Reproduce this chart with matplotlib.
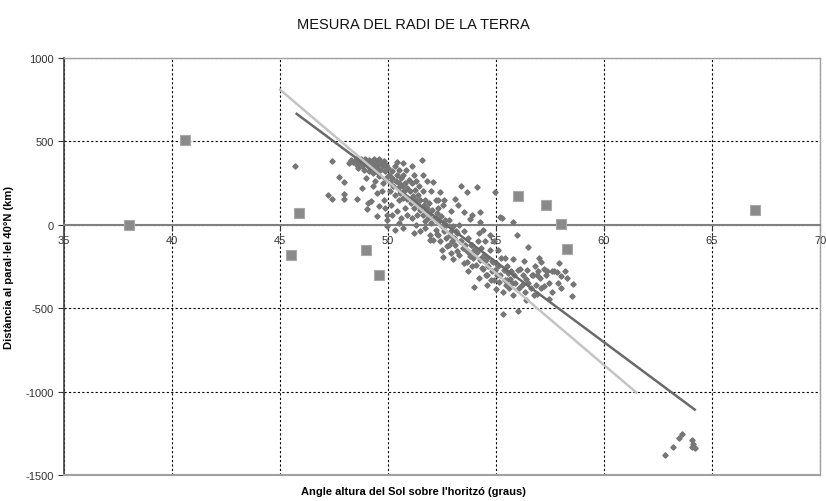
import numpy as np
import matplotlib
matplotlib.use('Agg')
import matplotlib.pyplot as plt

plt.rcParams['font.family'] = ['Liberation Sans', 'DejaVu Sans']
plt.rcParams['axes.unicode_minus'] = False

# Mesures (angle en graus, distancia en km) llegides del grafic
punts = [
    (45.7, 350),
    (47.2, 176), (47.4, 380), (47.4, 156), (47.75, 285), (47.98, 259), (47.98, 186), (47.98, 156), (48.2, 371),
    # grup superior
    (48.3, 390), (48.4, 375), (48.5, 395), (48.55, 360), (48.6, 385), (48.7, 370), (48.75, 395), (48.8, 350),
    (48.85, 380), (48.9, 365), (48.95, 395), (49.0, 375), (49.05, 355), (49.1, 390), (49.15, 370), (49.2, 345),
    (49.25, 385), (49.3, 360), (49.35, 395), (49.4, 375), (49.45, 340), (49.5, 385), (49.55, 360), (49.6, 395),
    (49.65, 330), (49.7, 370), (49.75, 350), (49.8, 385), (49.85, 320), (49.9, 360), (48.6, 340), (48.9, 330),
    (49.1, 320), (49.3, 310),
    (48.58, 152), (48.78, 220), (49.06, 130), (49.01, 92), (49.2, 140), (49.3, 230), (49.4, 265), (49.5, 52),
    (49.5, 190), (49.6, 290), (49.7, 200), (49.75, 250), (49.8, 150), (49.9, 280), (49.94, 60), (49.97, 26),
    (49.95, -10), (49.85, 100), (49.0, 280), (49.6, 110),
    # 50 - 51
    (50.0, 340), (50.05, 300), (50.1, 257), (50.1, 200), (50.15, 120), (50.2, 320), (50.2, 280), (50.25, 230),
    (50.3, 350), (50.3, 180), (50.35, 260), (50.4, 379), (50.4, 300), (50.4, 80), (50.45, 220), (50.5, 330),
    (50.5, 250), (50.5, 150), (50.55, 190), (50.6, 280), (50.6, 40), (50.65, 230), (50.7, 371), (50.7, 300),
    (50.7, 160), (50.75, 200), (50.8, 250), (50.8, 100), (50.85, 330), (50.9, 156), (50.9, 220), (50.95, 270),
    (50.3, -30), (50.7, -20), (50.5, 10), (50.9, 60), (50.2, 60),
    # 51 - 52
    (51.0, 200), (51.05, 130), (51.1, 355), (51.1, 250), (51.15, 170), (51.2, 300), (51.2, 100), (51.25, 210),
    (51.3, 150), (51.3, 260), (51.35, 60), (51.4, 180), (51.4, 120), (51.45, 230), (51.5, 90), (51.5, 150),
    (51.56, 391), (51.6, 56), (51.6, 200), (51.65, 120), (51.7, 150), (51.7, 20), (51.75, 80), (51.8, 100),
    (51.8, 260), (51.85, 40), (51.9, 60), (51.9, 130), (51.95, -60), (51.3, 0), (51.5, -40), (51.2, -50),
    (51.1, 40), (51.7, -20), (52.0, 200), (51.6, 300), (51.94, -94),
    # 52 - 53
    (52.0, 10), (52.05, 90), (52.1, 256), (52.1, -94), (52.15, 40), (52.2, -30), (52.2, 150), (52.25, 70),
    (52.3, 100), (52.3, -60), (52.35, 20), (52.4, 196), (52.4, -100), (52.45, 50), (52.5, -10), (52.5, -150),
    (52.55, 120), (52.56, -194), (52.6, -40), (52.65, 30), (52.7, 0), (52.7, -80), (52.75, -130), (52.8, 30),
    (52.8, -120), (52.85, -60), (52.9, 80), (52.9, -40), (52.9, -170), (52.95, -100), (52.3, 150), (52.6, 150),
    (52.2, 40), (52.25, -54),
    # 53 - 54
    (53.0, -204), (53.0, -10), (53.05, -80), (53.1, 156), (53.1, -120), (53.15, -40), (53.2, -50), (53.2, -160),
    (53.26, 116), (53.3, 0), (53.3, -180), (53.35, -100), (53.4, 232), (53.4, -100), (53.45, -140), (53.5, 76),
    (53.5, -40), (53.5, -230), (53.55, -120), (53.6, -150), (53.64, 196), (53.64, -224), (53.7, -80), (53.7, -280),
    (53.75, -170), (53.8, 36), (53.8, -190), (53.85, -120), (53.9, 60), (53.9, -250), (53.9, -120), (53.95, -200),
    (54.0, -373),
    # 54 - 55
    (54.0, -150), (54.05, -240), (54.1, 226), (54.1, -164), (54.15, -100), (54.2, -50), (54.2, -320), (54.25, -210),
    (54.26, 76), (54.26, 16), (54.3, -200), (54.3, -140), (54.35, -260), (54.4, -30), (54.4, -264), (54.45, -180),
    (54.5, -100), (54.5, -220), (54.55, -300), (54.57, -363), (54.6, -300), (54.6, -200), (54.65, -250), (54.7, -150),
    (54.7, -60), (54.75, -330), (54.8, -280), (54.8, -220), (54.87, -224), (54.9, -330), (54.9, -100), (54.95, 196),
    (54.95, -270),
    # 55 - 56
    (55.0, -383), (55.0, -230), (55.05, -300), (55.1, -150), (55.1, -250), (55.15, -340), (55.2, 46), (55.2, -304),
    (55.25, -200), (55.26, 42), (55.3, -400), (55.34, -533), (55.35, -270), (55.4, -200), (55.4, -330), (55.45, -360),
    (55.5, -250), (55.5, -330), (55.55, -290), (55.6, -380), (55.65, -324), (55.7, -280), (55.75, -350), (55.8, 16),
    (55.8, -204), (55.8, -420), (55.85, -300), (55.9, -350), (55.96, -64), (56.03, -515), (56.0, -270),
    # 56 - 57
    (56.05, -380), (56.1, -264), (56.2, -360), (56.25, -300), (56.3, -220), (56.35, -400), (56.4, -324), (56.4, -450),
    (56.45, -270), (56.5, -134), (56.5, -350), (56.6, -380), (56.65, -300), (56.7, -304), (56.75, -420), (56.8, -250),
    (56.85, -360), (56.9, -413), (56.9, -303), (56.95, -280),
    # 57 - 58.6
    (57.0, -200), (57.05, -320), (57.1, -224), (57.1, -380), (57.2, -264), (57.2, -364), (57.3, -300), (57.35, -280),
    (57.47, -443), (57.45, -350), (57.58, -280), (57.6, -400), (57.7, -280), (57.8, -284), (57.85, -350),
    (57.9, -230), (58.0, -380), (58.0, -309), (58.2, -280), (58.5, -429), (58.58, -353), (58.3, -320),
    # grup inferior
    (62.8, -1379), (63.2, -1331), (63.47, -1281), (63.6, -1253), (64.06, -1289), (64.1, -1317), (64.09, -1335),
    (64.2, -1341),
]
angle = np.array([p[0] for p in punts])
distancia = np.array([p[1] for p in punts])

# Mesures descartades (quadrats)
desc_angle = [38.0, 40.6, 45.5, 45.9, 49.0, 49.6, 56.0, 57.3, 58.0, 58.3, 67.0]
desc_dist = [0, 510, -180, 70, -150, -300, 172, 120, 5, -144, 90]

# Rectes de regressio
recta1_x = [45.77, 64.2]
recta1_y = [665, -1108]
recta2_x = [45.0, 61.5]
recta2_y = [810, -1006]

fig = plt.figure(figsize=(8.26, 5.02), dpi=100)
ax = fig.add_axes([0.0775, 0.0518, 0.9153, 0.8307])

ax.plot(angle, distancia, 'D', ms=2.7, color='#767676', mec='#767676', zorder=3)
ax.plot(desc_angle, desc_dist, 's', ms=6.5, color='#8a8a8a', mec='#a8a8a8', mew=0.8, zorder=3)
ax.plot(recta1_x, recta1_y, color='#6a6a6a', lw=1.8, zorder=4)
ax.plot(recta2_x, recta2_y, color='#c4c4c4', lw=1.8, zorder=4)

ax.set_xlim(35, 70)
ax.set_ylim(-1500, 1000)
ax.set_xticks(np.arange(35, 71, 5))
ax.set_yticks(np.arange(-1500, 1001, 500))

ax.set_axisbelow(True)
ax.grid(True, ls=(0, (2, 2)), color='black', lw=0.8)

ax.spines['bottom'].set_position(('data', 0))
ax.spines['bottom'].set_color('#808080')
ax.spines['bottom'].set_linewidth(1.5)
ax.spines['left'].set_color('#404040')
ax.spines['left'].set_linewidth(1.2)
for s in ['top', 'right']:
    ax.spines[s].set_color('#a0a0a0')
    ax.spines[s].set_linewidth(1.0)
ax.axhline(-1500, color='#a0a0a0', lw=1.5, clip_on=False, zorder=5)

ax.tick_params(axis='both', labelsize=8, colors='#333333', length=4, width=0.8)
ax.tick_params(axis='x', pad=3)

fig.text(0.5, 1 - 25 / 502, 'MESURA DEL RADI DE LA TERRA', fontsize=10.5,
         ha='center', va='center', color='#111111')
ax.set_xlabel("Angle altura del Sol sobre l'horitzó (graus)", fontsize=8, fontweight='bold')
ax.set_ylabel('Distància al paral·lel 40°N (km)', fontsize=8, fontweight='bold')
ax.xaxis.set_label_coords(0.462, -0.026)
ax.yaxis.set_label_coords(-0.066, 0.5)

fig.savefig('out.png', dpi=100)
